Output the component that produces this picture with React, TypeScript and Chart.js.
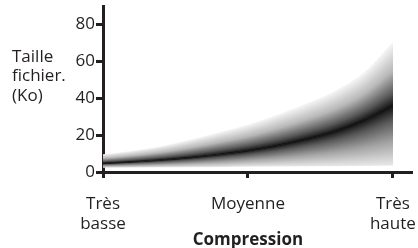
import React, { useEffect, useRef } from 'react';
import { Chart, registerables } from 'chart.js';

Chart.register(...registerables);

// ---- data ----
const xPositions = [0, 1, 2, 3, 4, 5, 6, 7, 8, 9, 10];
const upperValues = [9.6, 11.5, 14, 17.5, 21.5, 25.7, 31, 37, 44, 54, 70.5];
const centerValues = [4.7, 5.5, 6.5, 7.8, 9.5, 11.6, 14.3, 17.8, 22, 28, 36];
const lowerValues = [2.3, 2.4, 2.5, 2.6, 2.7, 2.9, 3.0, 3.1, 3.2, 3.3, 3.5];

const xTickValues = [0, 5, 10];
const xTickLabels = [['Très', 'basse'], ['Moyenne'], ['Très', 'haute']];
const yTickValues = [0, 20, 40, 60, 80];
const yTitleLines = ['Taille', 'fichier.', '(Ko)'];
const xTitle = 'Compression';

const INK = '#231f20';
const FONT = '"Open Sans", "DejaVu Sans", sans-serif';
const FONT_SIZE = 17;

type P = { x: number; y: number; cp1x?: number; cp1y?: number; cp2x?: number; cp2y?: number };

function samplePath(points: P[]) {
  const out: { x: number; y: number }[] = [];
  for (let i = 0; i < points.length - 1; i++) {
    const a = points[i];
    const b = points[i + 1];
    const c1x = a.cp2x ?? a.x;
    const c1y = a.cp2y ?? a.y;
    const c2x = b.cp1x ?? b.x;
    const c2y = b.cp1y ?? b.y;
    const steps = 30;
    for (let s = 0; s <= steps; s++) {
      const t = s / steps;
      const mt = 1 - t;
      const x = mt * mt * mt * a.x + 3 * mt * mt * t * c1x + 3 * mt * t * t * c2x + t * t * t * b.x;
      const y = mt * mt * mt * a.y + 3 * mt * mt * t * c1y + 3 * mt * t * t * c2y + t * t * t * b.y;
      out.push({ x, y });
    }
  }
  return out;
}

function yAt(poly: { x: number; y: number }[], x: number) {
  if (x <= poly[0].x) return poly[0].y;
  for (let j = 0; j < poly.length - 1; j++) {
    const a = poly[j];
    const b = poly[j + 1];
    if (x >= a.x && x <= b.x) {
      const d = b.x - a.x;
      return d === 0 ? a.y : a.y + ((x - a.x) / d) * (b.y - a.y);
    }
  }
  return poly[poly.length - 1].y;
}

const bandPlugin = {
  id: 'gradientBand',
  beforeDatasetsDraw(chart: any) {
    const ctx = chart.ctx as CanvasRenderingContext2D;
    const xs = chart.scales.x;
    const polys = [0, 1, 2].map((i) => {
      const meta = chart.getDatasetMeta(i);
      try {
        meta.dataset.updateControlPoints(chart.chartArea, 'x');
      } catch (e) {
        /* ignore */
      }
      return samplePath(meta.data as P[]);
    });
    const [U, C, L] = polys;
    const x0 = Math.round(xs.getPixelForValue(xPositions[0]));
    const x1 = Math.round(xs.getPixelForValue(xPositions[xPositions.length - 1]));
    ctx.save();
    for (let px = x0; px < x1; px++) {
      const cx = px + 0.5;
      const yu = yAt(U, cx);
      const yc = yAt(C, cx);
      const yl = yAt(L, cx);
      const g1 = ctx.createLinearGradient(0, yu, 0, yc);
      g1.addColorStop(0, '#f6f6f6');
      g1.addColorStop(0.45, '#b8b8b8');
      g1.addColorStop(0.8, '#5a5a5a');
      g1.addColorStop(1, '#141414');
      ctx.fillStyle = g1;
      ctx.fillRect(px, yu, 1, yc - yu);
      const g2 = ctx.createLinearGradient(0, yc, 0, yl);
      g2.addColorStop(0, '#141414');
      g2.addColorStop(0.25, '#5a5a5a');
      g2.addColorStop(0.6, '#a4a4a4');
      g2.addColorStop(1, '#e8e8e8');
      ctx.fillStyle = g2;
      ctx.fillRect(px, yc, 1, yl - yc);
    }
    ctx.restore();
  },
};

const titlePlugin = {
  id: 'freeTitles',
  afterDraw(chart: any) {
    const ctx = chart.ctx as CanvasRenderingContext2D;
    const xs = chart.scales.x;
    ctx.save();
    ctx.fillStyle = INK;
    ctx.textBaseline = 'alphabetic';
    ctx.textAlign = 'left';
    ctx.font = `${FONT_SIZE}px ${FONT}`;
    yTitleLines.forEach((t, i) => ctx.fillText(t, 12, 61.5 + i * 19.5));
    ctx.textAlign = 'center';
    ctx.font = `bold ${FONT_SIZE}px ${FONT}`;
    ctx.fillText(xTitle, xs.getPixelForValue(xTickValues[1]), chart.height - 3);
    ctx.restore();
  },
};

export default function App() {
  const ref = useRef<HTMLCanvasElement | null>(null);

  useEffect(() => {
    document.body.style.margin = '0';
    const canvas = ref.current;
    if (!canvas) return;
    const mk = (vals: number[]) => xPositions.map((x, i) => ({ x, y: vals[i] }));
    const chart = new Chart(canvas, {
      type: 'line',
      data: {
        datasets: [
          { data: mk(upperValues), borderColor: 'transparent', borderWidth: 0, pointRadius: 0, cubicInterpolationMode: 'monotone', fill: false },
          { data: mk(centerValues), borderColor: 'rgba(10,10,10,0.75)', borderWidth: 1.2, pointRadius: 0, cubicInterpolationMode: 'monotone', fill: false },
          { data: mk(lowerValues), borderColor: 'transparent', borderWidth: 0, pointRadius: 0, cubicInterpolationMode: 'monotone', fill: false },
        ],
      },
      options: {
        responsive: false,
        animation: false,
        devicePixelRatio: 1,
        layout: { padding: { top: 6, right: 6, left: 0, bottom: 0 } },
        plugins: { legend: { display: false }, tooltip: { enabled: false }, title: { display: false } },
        scales: {
          x: {
            type: 'linear',
            min: 0,
            max: 10.66,
            z: 1,
            afterBuildTicks: (s: any) => {
              s.ticks = xTickValues.map((v) => ({ value: v }));
            },
            afterFit: (s: any) => {
              s.height = 76;
              s.paddingLeft = 0;
              s.paddingRight = 0;
            },
            ticks: {
              autoSkip: false,
              maxRotation: 0,
              minRotation: 0,
              padding: 16,
              color: INK,
              font: { family: FONT, size: FONT_SIZE, lineHeight: 1.2 },
              callback: (v: any) => xTickLabels[xTickValues.indexOf(Number(v))] ?? '',
            },
            grid: { drawOnChartArea: false, drawTicks: true, tickLength: 6, tickWidth: 3, tickColor: INK },
            border: { display: true, width: 3, color: INK },
          },
          y: {
            type: 'linear',
            min: 0,
            max: 90,
            z: 1,
            afterBuildTicks: (s: any) => {
              s.ticks = yTickValues.map((v) => ({ value: v }));
            },
            afterFit: (s: any) => {
              s.width = 103;
              s.paddingTop = 0;
              s.paddingBottom = 0;
            },
            ticks: {
              padding: 1,
              color: INK,
              font: { family: FONT, size: FONT_SIZE },
              callback: (v: any) => String(v),
            },
            grid: { drawOnChartArea: false, drawTicks: true, tickLength: 7, tickWidth: 3, tickColor: INK },
            border: { display: true, width: 3, color: INK },
          },
        },
      },
      plugins: [bandPlugin, titlePlugin],
    } as any);
    return () => chart.destroy();
  }, []);

  return <canvas ref={ref} width={418} height={248} style={{ display: 'block' }} />;
}
